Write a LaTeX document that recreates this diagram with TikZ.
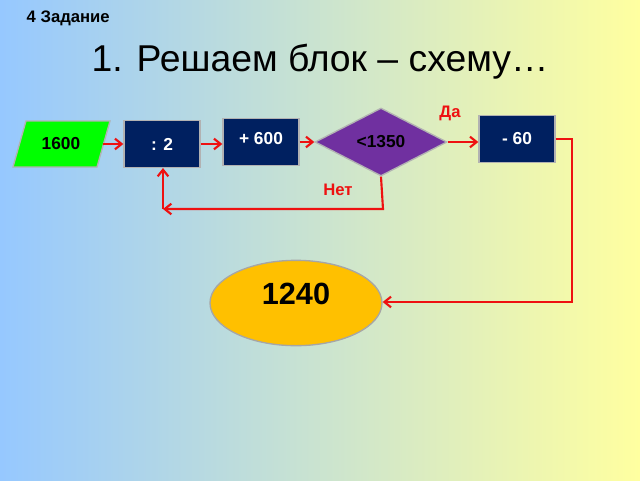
\documentclass[tikz,border=0pt]{standalone}
\usepackage{fontspec}
\setmainfont{Liberation Sans}
\usetikzlibrary{shapes.geometric,arrows.meta}
\definecolor{navy}{HTML}{002060}
\definecolor{purp}{HTML}{7030A0}
\definecolor{gold}{HTML}{FFC000}
\definecolor{lgreen}{HTML}{00FF00}
\definecolor{redl}{HTML}{EE1111}
\begin{document}
\begin{tikzpicture}[x=0.75pt,y=-0.75pt,
 boxs/.style={draw=gray!60,line width=1pt,fill=navy,text=white,font=\fontsize{13}{15}\selectfont\bfseries,minimum width=57pt,minimum height=35pt,inner sep=0pt},
 arr/.style={draw=redl,line width=1.6pt,-{Straight Barb[length=5pt,width=8pt]}},
 lab/.style={text=redl,font=\fontsize{12.5}{15}\selectfont\bfseries}]
\useasboundingbox (0,0) rectangle (640,480);
\shade[left color={rgb,255:red,150;green,200;blue,255}, right color={rgb,255:red,255;green,255;blue,160}] (0,0) rectangle (640,480);
\node[anchor=west,font=\fontsize{12.5}{14}\selectfont\bfseries] (t4) at (22,18) {4 Задание};
\node[font=\fontsize{28}{32}\selectfont] (title) at (320,62) {1. Решаем блок – схему…};
\filldraw[draw=gray!60,line width=1pt,fill=lgreen] (26,121) -- (110,121) -- (97,167) -- (13,167) -- cycle;
\node[font=\fontsize{13}{15}\selectfont\bfseries,minimum width=63pt,minimum height=35pt,inner sep=0pt] (p) at (61,144) {1600};
\node[boxs] (d2) at (162,144) {: 2};
\node[boxs,text depth=6pt] (p600) at (261,142) {+ 600};
\node[diamond,draw=gray!60,line width=1pt,fill=purp,minimum width=99pt,minimum height=51pt,inner sep=0pt,aspect=2,font=\fontsize{13}{15}\selectfont\bfseries] (dm) at (381,142) {<1350};
\node[boxs] (m60) at (517,139) {- 60};
\node[ellipse,draw=gray!70,line width=1pt,fill=gold,minimum width=129pt,minimum height=64pt,font=\fontsize{23}{28}\selectfont\bfseries,text depth=14pt] (res) at (296,303) {1240};
\node[lab] (da) at (450,113) {Да};
\node[lab] (net) at (338,190) {Нет};
\draw[arr] (p.east) -- (d2.west);
\draw[arr] (d2.east) -- (p600.west |- d2.east);
\draw[arr] (p600.east |- dm.west) -- (dm.west);
\draw[arr] (dm.east) -- (m60.west |- dm.east);
\coordinate (c1) at (383,209);
\coordinate (c2) at (163,209);
\draw[arr] (dm.south) -- (c1) -- (c2);
\draw[arr] (c2) -- (d2.south -| c2);
\coordinate (c3) at (572,139);
\coordinate (c4) at (572,302);
\draw[arr] (m60.east) -- (c3) -- (c4) -- (res.east |- c4);
\end{tikzpicture}
\end{document}
